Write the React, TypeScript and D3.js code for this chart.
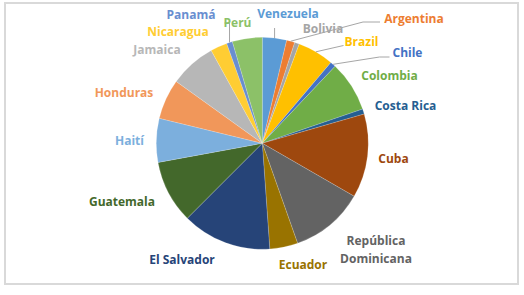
import React from "react";
import * as d3 from "d3";

const countries = [
  "Venezuela", "Argentina", "Bolivia", "Brazil", "Chile", "Colombia", "Costa Rica",
  "Cuba", "República Dominicana", "Ecuador", "El Salvador", "Guatemala", "Haití",
  "Honduras", "Jamaica", "Nicaragua", "Panamá", "Perú",
];
const values = [3.7, 1.25, 0.72, 5.53, 0.86, 7.72, 0.78, 12.78, 11.28, 4.28, 13.64, 9.61, 6.67, 6.14, 7.08, 2.56, 0.89, 4.56];
const colors = [
  "#5B9BD5", "#ED7D31", "#A5A5A5", "#FFC000", "#4472C4", "#70AD47", "#255E91",
  "#9E480E", "#636363", "#997300", "#264478", "#43682B", "#7CAFDD",
  "#F1975A", "#B7B7B7", "#FFCD33", "#698ED0", "#8CC168",
];

// label layout (center x, center y) for each country
const labelPos: Record<string, [number, number]> = {
  "Venezuela": [288, 14],
  "Argentina": [414, 19],
  "Bolivia": [323, 28.5],
  "Brazil": [361.5, 42],
  "Chile": [407.5, 53],
  "Colombia": [389.5, 76],
  "Costa Rica": [405.5, 106],
  "Cuba": [393.5, 159],
  "República Dominicana": [376, 250],
  "Ecuador": [303, 265],
  "El Salvador": [182, 260],
  "Guatemala": [122, 202],
  "Haití": [129.5, 141],
  "Honduras": [124, 93],
  "Jamaica": [157, 50],
  "Nicaragua": [178, 32],
  "Panamá": [191, 15],
  "Perú": [237.5, 23],
};

const W = 524, H = 295;
const cx = 262.3, cy = 143.3, R = 106;

export default function App() {
  const pie = d3.pie<number>().sort(null).value((d) => d)(values);
  const arc = d3.arc<d3.PieArcDatum<number>>().innerRadius(0).outerRadius(R);
  const edge = (a: d3.PieArcDatum<number>, r = R): [number, number] => {
    const m = (a.startAngle + a.endAngle) / 2;
    return [cx + r * Math.sin(m), cy - r * Math.cos(m)];
  };
  const idx = (n: string) => countries.indexOf(n);
  const lp = (n: string) => labelPos[n];
  const leaders: [number, number][][] = [
    [edge(pie[idx("Venezuela")]), [edge(pie[idx("Venezuela")])[0], lp("Venezuela")[1] + 14]],
    [edge(pie[idx("Argentina")]), [lp("Argentina")[0] - 51, lp("Argentina")[1] + 3], [lp("Argentina")[0] - 34, lp("Argentina")[1] + 3]],
    [edge(pie[idx("Brazil")]), [lp("Brazil")[0] - 18, lp("Brazil")[1] + 3.5]],
    [edge(pie[idx("Chile")]), [lp("Chile")[0] - 28, lp("Chile")[1] + 4], [lp("Chile")[0] - 18, lp("Chile")[1] + 4]],
    [edge(pie[idx("Panamá")]), [edge(pie[idx("Panamá")])[0], lp("Perú")[1]], [edge(pie[idx("Panamá")])[0] - 5, lp("Perú")[1]]],
  ];
  const line = d3.line();
  return (
    <div style={{ position: "fixed", left: 0, top: 0 }}>
      <svg width={W} height={H} style={{ display: "block", background: "#fff" }}>
        <rect x={5} y={3} width={513} height={281} fill="#fff" stroke="#d9d9d9" strokeWidth={2} />
        <g>
          {pie.map((a, i) => (
            <path key={i} d={arc(a) || ""} transform={`translate(${cx},${cy})`} fill={colors[i]} stroke="#ffffff" strokeOpacity={0.35} strokeWidth={0.5} />
          ))}
        </g>
        <g fill="none" stroke="#a6a6a6" strokeWidth={1}>
          {leaders.map((pts, i) => (
            <path key={i} d={line(pts) || ""} />
          ))}
        </g>
        <g fontFamily="'Open Sans', sans-serif" fontWeight="bold" fontSize={12} textAnchor="middle">
          {countries.map((c, i) => {
            const [x, y] = lp(c);
            if (c === "República Dominicana") {
              return (
                <text key={c} x={x} y={y} fill={colors[i]}>
                  <tspan x={x} dy={-9 + 4}>República</tspan>
                  <tspan x={x} dy={18}>Dominicana</tspan>
                </text>
              );
            }
            return (
              <text key={c} x={x} y={y} dy="0.35em" fill={colors[i]}>{c}</text>
            );
          })}
        </g>
      </svg>
    </div>
  );
}
